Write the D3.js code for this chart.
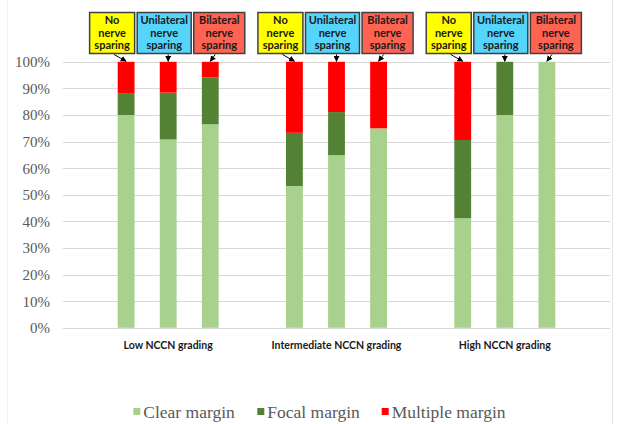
<!DOCTYPE html>
<html><head><meta charset="utf-8">
<script src="https://cdn.jsdelivr.net/npm/d3@7"></script>
<style>html,body{margin:0;padding:0;background:#fff;}svg{display:block;}</style>
</head><body>
<svg id="chart" width="618" height="424"></svg>
<script>
// ---- data ----
const groups = ["Low NCCN grading", "Intermediate NCCN grading", "High NCCN grading"];
const sparing = ["No nerve sparing", "Unilateral nerve sparing", "Bilateral nerve sparing"];
const sparingLines = [["No","nerve","sparing"],["Unilateral","nerve","sparing"],["Bilateral","nerve","sparing"]];
const sparingColors = ["#FFFF00", "#55D4FC", "#FF6352"];
const seriesNames = ["Clear margin", "Focal margin", "Multiple margin"];
const seriesColors = ["#A9D18E", "#548235", "#FF0000"];
// values per bar (group-major: Low No/Uni/Bi, Int No/Uni/Bi, High No/Uni/Bi), in %
const clearMargin    = [80, 70.8, 76.5, 53.3, 64.9, 75, 41.2, 80, 100];
const focalMargin    = [8, 17.6, 17.6, 20, 16.2, 0, 29.4, 20, 0];
const multipleMargin = [12, 11.6, 5.9, 26.7, 18.9, 25, 29.4, 0, 0];
const yTicks = [0,10,20,30,40,50,60,70,80,90,100];

(function(){
// ---- build slots (blank spacer categories between groups) ----
const slots = [];
slots.push("gap0");
groups.forEach((g, gi) => {
  sparing.forEach((s, si) => slots.push(g + "|" + s));
  slots.push("gap" + (gi + 1));
});
const bars = [];
groups.forEach((g, gi) => sparing.forEach((s, si) => {
  const i = gi * 3 + si;
  bars.push({key: g + "|" + s, group: gi, sp: si,
    vals: [clearMargin[i], focalMargin[i], multipleMargin[i]]});
}));

const svg = d3.select("#chart");
const W = 618, H = 424;
const pLeft = 63, pRight = 610, pTop = 61.8, pBottom = 327.8;

// faint chart-area border lines
svg.append("line").attr("x1",7.5).attr("x2",7.5).attr("y1",0).attr("y2",H).attr("stroke","#f2f2f2");
svg.append("line").attr("x1",612.5).attr("x2",612.5).attr("y1",0).attr("y2",H).attr("stroke","#e4e4e4");

const x = d3.scaleBand().domain(slots).range([pLeft, pRight]).paddingInner(0.6).paddingOuter(0.3);
const y = d3.scaleLinear().domain([0, 100]).range([pBottom, pTop]);

// gridlines
svg.append("g").selectAll("line").data(yTicks).join("line")
  .attr("x1", pLeft).attr("x2", pRight)
  .attr("y1", d => Math.round(y(d)) + 0.5).attr("y2", d => Math.round(y(d)) + 0.5)
  .attr("stroke", "#d9d9d9").attr("stroke-width", 1);

// y axis labels
const yAxis = d3.axisLeft(y).tickValues(yTicks).tickFormat(d => d + "%").tickSize(0).tickPadding(0);
const ya = svg.append("g").attr("transform", `translate(50,0)`).call(yAxis);
ya.select(".domain").remove();
ya.selectAll("text").attr("font-family", "'Liberation Serif', serif").attr("font-size", 15).attr("fill", "#595959");

// stacked bars
const stackData = bars.map(b => ({key: b.key, c: b.vals[0], f: b.vals[1], m: b.vals[2]}));
const stack = d3.stack().keys(["c", "f", "m"]);
const layers = stack(stackData);
svg.append("g").selectAll("g").data(layers).join("g")
  .attr("fill", (d, i) => seriesColors[i])
  .selectAll("rect").data(d => d).join("rect")
  .attr("x", d => x(d.data.key))
  .attr("width", x.bandwidth())
  .attr("y", d => y(d[1]))
  .attr("height", d => Math.max(0, y(d[0]) - y(d[1])));

// category labels
svg.append("g").selectAll("text").data(groups).join("text")
  .attr("x", (g) => x(g + "|" + sparing[1]) + x.bandwidth() / 2)
  .attr("y", 349)
  .attr("text-anchor", "middle")
  .attr("font-family", "Lato, sans-serif").attr("font-weight", "bold").attr("font-size", 10.5)
  .attr("fill", "#1a1a1a")
  .text(d => d);

// arrow marker
svg.append("defs").append("marker").attr("id", "arr")
  .attr("viewBox", "0 0 10 10").attr("refX", 9).attr("refY", 5)
  .attr("markerWidth", 6).attr("markerHeight", 6).attr("orient", "auto")
  .append("path").attr("d", "M0,0 L10,5 L0,10 z").attr("fill", "#000");

// annotation boxes
const boxOffset = [-14, -4, 9];
const boxW = [45, 54, 51];
const boxTop = 12.5, boxH = 41;
const ann = svg.append("g");
bars.forEach(b => {
  const cx = x(b.key) + x.bandwidth() / 2;
  const bcx = cx + boxOffset[b.sp];
  const g = ann.append("g");
  g.append("rect").attr("x", bcx - boxW[b.sp] / 2).attr("y", boxTop)
    .attr("width", boxW[b.sp]).attr("height", boxH)
    .attr("fill", sparingColors[b.sp]).attr("stroke", "#404040").attr("stroke-width", 1.5);
  sparingLines[b.sp].forEach((t, li) => {
    g.append("text").attr("x", bcx).attr("y", 24 + li * 12.5)
      .attr("text-anchor", "middle")
      .attr("font-family", "Lato, sans-serif").attr("font-weight", "bold").attr("font-size", 11)
      .attr("fill", "#1a1a1a").text(t);
  });
  const sx = b.sp === 1 ? cx : bcx + (b.sp === 0 ? 2 : -4);
  g.append("line").attr("x1", sx).attr("y1", boxTop + boxH + 1)
    .attr("x2", cx).attr("y2", y(100) - 0.5)
    .attr("stroke", "#000").attr("stroke-width", 1)
    .attr("marker-end", "url(#arr)");
});

// legend
const legX = [133.3, 257.3, 381.7];
const leg = svg.append("g");
seriesNames.forEach((n, i) => {
  leg.append("rect").attr("x", legX[i]).attr("y", 408).attr("width", 7).attr("height", 7).attr("fill", seriesColors[i]);
  leg.append("text").attr("x", legX[i] + 10).attr("y", 417.5)
    .attr("font-family", "'Liberation Serif', serif").attr("font-size", 17.5).attr("fill", "#595959").text(n);
});
})();
</script>
</body></html>
